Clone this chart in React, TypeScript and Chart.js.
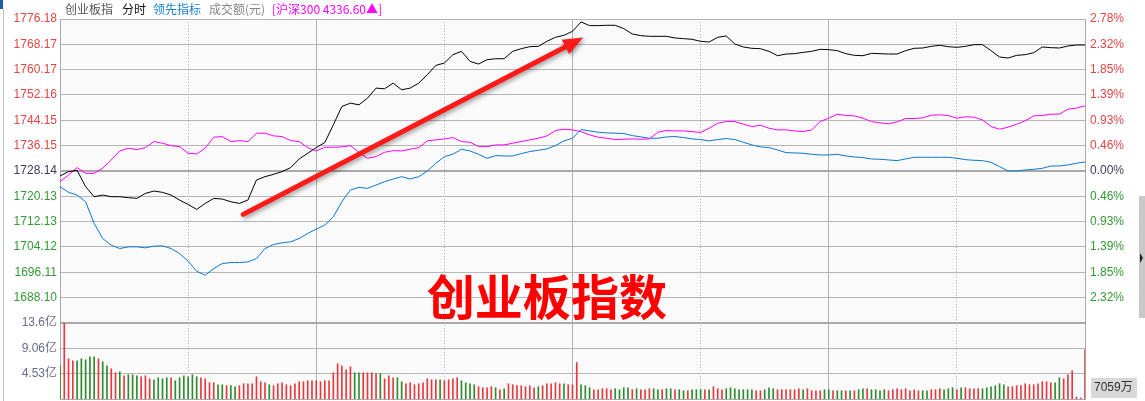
import React, { useEffect, useRef } from 'react';
import { Chart, registerables } from 'chart.js';

Chart.register(...registerables);

// ---- tick labels ----
const priceTicks = [1776.18, 1768.17, 1760.17, 1752.16, 1744.15, 1736.15, 1728.14, 1720.13, 1712.13, 1704.12, 1696.11, 1688.10];
const pctLabels = ['2.78%', '2.32%', '1.85%', '1.39%', '0.93%', '0.46%', '0.00%', '0.46%', '0.93%', '1.39%', '1.85%', '2.32%'];
const volTicks = [13.6, 9.06, 4.53];
const volLabels = ['13.6亿', '9.06亿', '4.53亿'];
const timeTicks = [0, 30, 60, 90, 120, 150, 180, 210, 240];
const basePrice = 1728.14;
const priceMin = 1680.09; // bottom of price panel
const rightMin = 1656.07; // price at bottom of volume panel (right axis spans both)
const volMax = 13.6;
const lineStep = 2; // minutes between line samples

// ---- series (sampled every 2 minutes, 09:30 -> 15:00) ----
const cybIndex = [
  1726.56, 1727.93, 1728.35, 1723.18, 1720.01, 1720.53, 1720.01, 1720.01, 1719.69, 1719.48,
  1721.06, 1721.80, 1721.38, 1720.53, 1718.95, 1717.58, 1715.99, 1717.89, 1719.48, 1719.27,
  1718.42, 1717.89, 1718.95, 1725.29, 1726.34, 1727.08, 1727.93, 1729.20, 1731.94, 1733.74,
  1735.53, 1737.12, 1742.72, 1748.53, 1749.58, 1749.05, 1751.17, 1754.34, 1754.12, 1755.92,
  1753.81, 1754.34, 1755.92, 1758.56, 1761.52, 1762.26, 1764.90, 1765.96, 1762.79, 1761.94,
  1763.31, 1763.63, 1763.63, 1765.96, 1766.80, 1767.43, 1767.54, 1769.12, 1770.39, 1771.03,
  1772.29, 1775.25, 1774.09, 1774.09, 1774.19, 1774.19, 1773.14, 1771.45, 1770.92, 1770.71,
  1770.71, 1770.71, 1770.18, 1769.97, 1769.76, 1769.12, 1768.91, 1770.39, 1770.82, 1768.28,
  1767.33, 1766.91, 1766.80, 1765.96, 1764.58, 1765.11, 1765.22, 1765.64, 1765.96, 1766.59,
  1766.49, 1766.17, 1765.22, 1764.69, 1764.58, 1765.32, 1765.22, 1765.11, 1765.11, 1766.17,
  1766.91, 1767.01, 1767.54, 1767.86, 1767.43, 1767.22, 1767.54, 1768.07, 1768.07, 1766.17,
  1764.16, 1763.84, 1764.69, 1764.90, 1765.53, 1767.33, 1767.12, 1767.01, 1767.65, 1767.96,
  1767.96,
];

const hs300Line = [
  1724.76, 1726.87, 1729.20, 1727.40, 1727.40, 1728.99, 1731.63, 1734.48, 1735.32, 1734.90,
  1735.53, 1737.44, 1736.91, 1736.17, 1735.85, 1733.74, 1733.53, 1735.32, 1738.81, 1739.02,
  1737.44, 1737.75, 1737.44, 1740.08, 1740.08, 1739.23, 1739.02, 1737.75, 1737.44, 1735.53,
  1734.48, 1735.64, 1735.64, 1735.75, 1736.17, 1734.06, 1732.15, 1732.68, 1734.06, 1734.58,
  1734.48, 1735.01, 1735.53, 1737.65, 1737.96, 1738.28, 1738.70, 1737.44, 1737.22, 1735.85,
  1735.85, 1736.38, 1736.38, 1736.91, 1737.44, 1737.96, 1738.49, 1739.23, 1740.92, 1741.34,
  1741.13, 1740.60, 1739.55, 1738.81, 1738.49, 1738.07, 1738.18, 1738.28, 1738.18, 1738.28,
  1740.39, 1740.92, 1740.81, 1740.81, 1740.60, 1740.29, 1741.66, 1743.25, 1743.77, 1743.77,
  1742.93, 1742.19, 1742.61, 1741.66, 1741.13, 1741.13, 1740.81, 1740.60, 1741.13, 1743.77,
  1744.83, 1746.10, 1745.67, 1745.57, 1744.83, 1743.77, 1743.35, 1743.03, 1743.67, 1744.72,
  1744.72, 1744.93, 1745.78, 1745.89, 1745.67, 1744.83, 1745.25, 1745.15, 1744.30, 1742.19,
  1741.34, 1741.98, 1742.93, 1743.98, 1745.57, 1745.67, 1746.10, 1746.10, 1747.68, 1748.00,
  1748.74,
];

const leadIndex = [
  1723.18, 1721.38, 1720.53, 1718.42, 1711.56, 1706.80, 1704.69, 1703.63, 1704.16, 1704.16,
  1703.85, 1704.37, 1704.48, 1703.63, 1702.05, 1699.62, 1696.45, 1695.18, 1697.30, 1698.88,
  1699.20, 1699.20, 1699.41, 1700.46, 1703.63, 1704.90, 1705.43, 1705.75, 1706.80, 1708.39,
  1709.76, 1711.03, 1713.67, 1718.42, 1722.12, 1722.96, 1722.65, 1723.70, 1724.76, 1725.60,
  1726.34, 1725.60, 1726.34, 1728.14, 1730.57, 1732.68, 1733.42, 1735.01, 1734.48, 1733.42,
  1732.15, 1733.00, 1732.89, 1732.89, 1733.63, 1734.27, 1734.69, 1735.11, 1736.17, 1737.65,
  1738.49, 1741.24, 1740.82, 1740.39, 1740.18, 1740.08, 1739.97, 1739.34, 1738.91, 1738.49,
  1738.49, 1738.91, 1739.02, 1738.70, 1738.28, 1738.07, 1737.65, 1738.07, 1738.39, 1738.07,
  1737.22, 1736.38, 1735.75, 1735.53, 1734.79, 1733.95, 1733.84, 1733.74, 1733.42, 1733.21,
  1733.21, 1733.42, 1732.89, 1732.58, 1732.37, 1731.94, 1731.84, 1731.63, 1731.41, 1731.94,
  1732.47, 1732.47, 1732.47, 1732.47, 1732.47, 1732.15, 1731.73, 1731.52, 1731.41, 1730.89,
  1729.51, 1728.14, 1728.14, 1728.46, 1728.67, 1728.99, 1729.72, 1729.72, 1730.04, 1730.57,
  1730.99,
];

// turnover per minute, in 亿元 (241 minutes)
const volume = [
  5.94, 13.54, 7.19, 6.83, 6.83, 7.19, 7.01, 7.54, 7.54, 7.19,
  6.65, 5.94, 5.40, 4.69, 4.87, 4.16, 4.34, 4.34, 4.16, 3.98,
  4.16, 3.62, 3.44, 3.80, 3.62, 3.80, 3.80, 3.27, 3.80, 4.16,
  3.98, 4.34, 3.98, 3.80, 3.62, 2.91, 2.91, 2.55, 2.55, 2.38,
  2.38, 2.20, 2.38, 2.73, 2.73, 2.73, 3.98, 3.09, 2.91, 2.55,
  2.38, 2.73, 2.91, 2.55, 2.38, 2.73, 3.09, 3.09, 3.27, 3.27,
  3.27, 3.09, 3.27, 3.27, 4.69, 6.30, 5.94, 5.23, 5.76, 4.69,
  4.69, 4.69, 4.69, 4.69, 4.51, 4.51, 3.62, 4.16, 3.80, 3.80,
  3.09, 2.73, 2.91, 2.55, 2.73, 2.91, 3.62, 3.44, 3.44, 3.44,
  3.27, 3.44, 3.62, 3.80, 3.27, 2.91, 2.73, 2.55, 2.20, 2.02,
  2.02, 2.20, 2.02, 1.66, 1.84, 2.73, 2.55, 2.38, 2.38, 2.20,
  2.38, 2.02, 2.20, 2.38, 2.73, 2.73, 2.91, 2.73, 2.73, 2.55,
  2.55, 6.53, 2.55, 2.38, 2.02, 1.66, 1.66, 1.84, 1.84, 1.66,
  1.84, 1.66, 2.02, 2.02, 1.66, 1.84, 1.66, 1.66, 1.84, 1.84,
  1.66, 1.66, 1.84, 1.84, 1.66, 1.66, 1.48, 1.48, 1.66, 1.66,
  1.66, 1.66, 1.66, 2.20, 1.84, 1.66, 1.84, 2.02, 1.84, 1.66,
  1.66, 1.66, 1.66, 1.48, 1.48, 1.66, 2.02, 1.84, 1.66, 1.66,
  1.66, 1.66, 1.66, 1.84, 1.66, 1.84, 1.48, 1.48, 1.48, 1.66,
  1.66, 1.48, 1.48, 1.48, 1.48, 1.48, 1.48, 1.66, 1.84, 1.84,
  1.66, 1.66, 1.48, 1.66, 1.48, 1.66, 1.84, 1.66, 1.84, 1.48,
  1.66, 1.48, 1.48, 1.48, 1.66, 1.66, 1.84, 1.66, 1.84, 2.02,
  1.66, 2.02, 2.02, 1.84, 1.84, 1.84, 1.84, 2.02, 2.20, 2.38,
  2.73, 2.55, 2.20, 2.20, 2.38, 2.38, 2.73, 2.55, 2.55, 2.73,
  3.09, 3.09, 2.91, 2.91, 3.80, 3.62, 4.34, 5.05, 0.36, 0.18,
  8.79,
];

// 1 = up minute (red), 0 = down minute (green)
const volUp = [
  0, 1, 1, 1, 0, 0, 0, 0, 0, 1,
  0, 0, 1, 1, 0, 1, 0, 0, 0, 1,
  1, 1, 0, 0, 0, 0, 1, 0, 0, 0,
  0, 0, 0, 1, 1, 1, 1, 0, 0, 1,
  0, 0, 1, 1, 1, 1, 1, 1, 1, 0,
  1, 1, 1, 1, 1, 1, 1, 1, 1, 1,
  1, 1, 1, 1, 1, 1, 1, 1, 1, 0,
  0, 1, 1, 1, 1, 0, 1, 1, 1, 0,
  0, 1, 1, 1, 1, 1, 1, 1, 1, 0,
  1, 1, 1, 1, 0, 0, 0, 0, 1, 1,
  1, 1, 0, 1, 0, 1, 1, 1, 1, 1,
  1, 1, 0, 1, 1, 1, 1, 1, 0, 1,
  1, 1, 0, 0, 0, 1, 1, 1, 1, 1,
  0, 0, 0, 0, 1, 0, 1, 1, 1, 0,
  0, 1, 0, 0, 1, 0, 0, 1, 0, 0,
  0, 1, 0, 1, 1, 1, 0, 0, 0, 0,
  0, 0, 0, 1, 1, 0, 0, 0, 1, 1,
  1, 1, 1, 1, 0, 1, 1, 1, 1, 0,
  0, 1, 0, 0, 1, 0, 1, 0, 0, 1,
  0, 0, 0, 0, 1, 1, 1, 1, 1, 1,
  1, 1, 0, 0, 1, 1, 1, 0, 0, 0,
  1, 0, 1, 1, 1, 1, 0, 0, 0, 0,
  0, 0, 1, 1, 1, 1, 1, 1, 1, 1,
  1, 1, 1, 0, 0, 1, 1, 1, 1, 1,
  1,
];

// annotation anchors (minute, price)
const arrowFrom = [42.9, 1714.42];
const arrowTo = [122.5, 1770.3];
const bigTitle = '创业板指数';
const bigTitleAt = [114, 1688.4];
const headerItems = [
  ['创业板指', '#555555', 65],
  ['分时', '#111111', 122],
  ['领先指标', '#1a7fd0', 153],
  ['成交额(元)', '#888888', 209],
  ['[沪深300 4336.60▲]', '#ff00ff', 272],
];
const lastVolLabel = '7059万';

const RED = '#e8383d';
const GREEN = '#2e8b2e';
const LBL_RED = '#e64545';
const LBL_GREEN = '#339933';
const LBL_MID = '#3c3c5a';
const FONT = '"Liberation Sans", Arial, "Noto Sans CJK SC", sans-serif';

const near = (a: number, b: number) => Math.abs(a - b) < 0.005;

const noPad = (s: any) => {
  s.paddingTop = 0;
  s.paddingBottom = 0;
};

const decor = {
  id: 'decor',
  beforeDraw(chart: any) {
    const { ctx, chartArea: a, width, height } = chart;
    ctx.save();
    ctx.fillStyle = '#ffffff';
    ctx.fillRect(0, 0, width, height);
    ctx.fillStyle = '#fafafa';
    ctx.fillRect(a.left, a.top, a.right - a.left, a.bottom - a.top);
    ctx.restore();
  },
  afterDraw(chart: any) {
    const { ctx, chartArea: a, scales } = chart;
    const xs = scales.x;
    const ys = scales.y;
    ctx.save();

    // header
    ctx.font = '12px "Noto Sans CJK SC", sans-serif';
    ctx.textBaseline = 'middle';
    ctx.textAlign = 'left';
    for (const [t, c, x] of headerItems as any) {
      ctx.fillStyle = c;
      ctx.fillText(t, x, 9);
    }

    // left splitter
    ctx.fillStyle = '#1f5fa8';
    ctx.fillRect(0, 0, 3, 9);
    ctx.strokeStyle = '#c4c4c4';
    ctx.lineWidth = 1;
    ctx.beginPath();
    ctx.moveTo(3.5, 9);
    ctx.lineTo(3.5, 401);
    ctx.stroke();

    // big title
    ctx.font = 'bold 48px "Noto Sans CJK SC", sans-serif';
    ctx.textAlign = 'center';
    ctx.textBaseline = 'middle';
    ctx.fillStyle = '#ff0000';
    ctx.fillText(bigTitle, xs.getPixelForValue(bigTitleAt[0]), ys.getPixelForValue(bigTitleAt[1]));

    // arrow
    const x0 = xs.getPixelForValue(arrowFrom[0]);
    const y0 = ys.getPixelForValue(arrowFrom[1]);
    const x1 = xs.getPixelForValue(arrowTo[0]);
    const y1 = ys.getPixelForValue(arrowTo[1]);
    const ang = Math.atan2(y1 - y0, x1 - x0);
    const headLen = 20;
    const headW = 8;
    const bx = x1 - headLen * Math.cos(ang);
    const by = y1 - headLen * Math.sin(ang);
    ctx.shadowColor = 'rgba(0,0,0,0.35)';
    ctx.shadowBlur = 4;
    ctx.shadowOffsetX = 2;
    ctx.shadowOffsetY = 2;
    ctx.strokeStyle = '#ff1a1a';
    ctx.fillStyle = '#ff1a1a';
    ctx.lineWidth = 5;
    ctx.lineCap = 'round';
    ctx.beginPath();
    ctx.moveTo(x0, y0);
    ctx.lineTo(bx + 3 * Math.cos(ang), by + 3 * Math.sin(ang));
    ctx.stroke();
    ctx.beginPath();
    ctx.moveTo(x1, y1);
    ctx.lineTo(bx + headW * Math.sin(ang), by - headW * Math.cos(ang));
    ctx.lineTo(bx - headW * Math.sin(ang), by + headW * Math.cos(ang));
    ctx.closePath();
    ctx.fill();
    ctx.shadowColor = 'transparent';
    ctx.shadowBlur = 0;
    ctx.shadowOffsetX = 0;
    ctx.shadowOffsetY = 0;

    // last volume box
    ctx.fillStyle = '#d8d8d8';
    ctx.fillRect(a.right + 6, a.bottom - 21, 46, 20);
    ctx.fillStyle = '#333333';
    ctx.font = '12px ' + FONT;
    ctx.textAlign = 'left';
    ctx.textBaseline = 'middle';
    ctx.fillText(lastVolLabel, a.right + 9, a.bottom - 11);

    // right scrollbar
    ctx.fillStyle = '#c8c8c8';
    ctx.fillRect(1139, 196, 6, 122);
    ctx.fillStyle = '#222222';
    ctx.beginPath();
    ctx.moveTo(1140, 253);
    ctx.lineTo(1143, 258);
    ctx.lineTo(1140, 263);
    ctx.closePath();
    ctx.fill();

    ctx.restore();
  },
};

export default function App() {
  const ref = useRef<HTMLCanvasElement | null>(null);

  useEffect(() => {
    document.body.style.margin = '0';
    const canvas = ref.current;
    if (!canvas) return;

    const toPts = (arr: number[]) => arr.map((v, k) => ({ x: k * lineStep, y: v }));

    const chart = new Chart(canvas, {
      type: 'line',
      data: {
        datasets: [
          { type: 'line', label: '创业板指', data: toPts(cybIndex), borderColor: '#000000', borderWidth: 1, pointRadius: 0, tension: 0, yAxisID: 'y', xAxisID: 'x', order: 0 },
          { type: 'line', label: '沪深300', data: toPts(hs300Line), borderColor: '#ff00ff', borderWidth: 1, pointRadius: 0, tension: 0, yAxisID: 'y', xAxisID: 'x', order: 1 },
          { type: 'line', label: '领先指标', data: toPts(leadIndex), borderColor: '#0a78d7', borderWidth: 1, pointRadius: 0, tension: 0, yAxisID: 'y', xAxisID: 'x', order: 2 },
          {
            type: 'bar', label: '成交额', data: volume.map((v, i) => ({ x: i, y: v })),
            backgroundColor: volUp.map((u) => (u ? RED : GREEN)), barThickness: 1, borderWidth: 0,
            yAxisID: 'yv', xAxisID: 'x', order: 3,
          },
        ] as any,
      },
      options: {
        animation: false,
        responsive: false,
        events: [],
        layout: { padding: { top: 19, bottom: 2, left: 0, right: 0 } },
        plugins: { legend: { display: false }, tooltip: { enabled: false } },
        scales: {
          x: {
            type: 'linear', min: 0, max: 240, offset: false,
            afterBuildTicks: (s: any) => { s.ticks = timeTicks.map((v) => ({ value: v })); },
            afterFit: (s: any) => { s.height = 0; s.paddingLeft = 0; s.paddingRight = 0; },
            ticks: { display: false },
            grid: { offset: false, drawTicks: false, color: '#b2b2b2', lineWidth: 1 },
            border: { display: true, color: '#aaaaaa', width: 1, dash: (c: any) => (c.tick && (c.tick.value / 30) % 2 === 1 ? [1, 2] : []) },
          },
          y: {
            type: 'linear', position: 'left', stack: 'L', stackWeight: 4, weight: 2,
            min: priceMin, max: priceTicks[0],
            afterBuildTicks: (s: any) => { s.ticks = [...priceTicks, priceMin].map((v) => ({ value: v })); },
            afterFit: (s: any) => { s.width = 60; noPad(s); },
            ticks: {
              autoSkip: false, padding: 3, font: { family: FONT, size: 12 },
              callback: (v: any, i: number) => (i < priceTicks.length ? priceTicks[i].toFixed(2) : ''),
              color: (c: any) => {
                const v = c.tick ? c.tick.value : basePrice;
                return near(v, basePrice) ? LBL_MID : v > basePrice ? LBL_RED : LBL_GREEN;
              },
            },
            grid: {
              drawTicks: false,
              color: (c: any) => (c.tick && (near(c.tick.value, basePrice) || near(c.tick.value, priceMin)) ? '#a9a9a9' : '#b6b6b6'),
              lineWidth: (c: any) => (c.tick && (near(c.tick.value, basePrice) || near(c.tick.value, priceMin)) ? 2 : 1),
            },
            border: { display: true, color: '#aaaaaa', width: 1 },
          },
          yv: {
            type: 'linear', position: 'left', stack: 'L', stackWeight: 1, weight: 1,
            min: 0, max: volMax,
            afterBuildTicks: (s: any) => { s.ticks = volTicks.map((v) => ({ value: v })); },
            afterFit: (s: any) => { s.width = 60; noPad(s); },
            ticks: {
              autoSkip: false, padding: 3, font: { family: FONT, size: 12 }, color: '#6a6a8a',
              callback: (v: any, i: number) => volLabels[i] ?? '',
            },
            grid: {
              drawTicks: false,
              color: (c: any) => (c.tick && near(c.tick.value, volMax) ? 'rgba(0,0,0,0)' : '#b6b6b6'),
              lineWidth: 1,
            },
            border: { display: true, color: '#aaaaaa', width: 1 },
          },
          yR: {
            type: 'linear', position: 'right',
            min: rightMin, max: priceTicks[0],
            afterBuildTicks: (s: any) => { s.ticks = priceTicks.map((v) => ({ value: v })); },
            afterFit: (s: any) => { s.width = 60; noPad(s); },
            ticks: {
              autoSkip: false, padding: 5, font: { family: FONT, size: 12 },
              callback: (v: any, i: number) => pctLabels[i] ?? '',
              color: (c: any) => {
                const v = c.tick ? c.tick.value : basePrice;
                return near(v, basePrice) ? LBL_MID : v > basePrice ? LBL_RED : LBL_GREEN;
              },
            },
            grid: { display: false, drawTicks: false },
            border: { display: true, color: '#aaaaaa', width: 1 },
          },
        },
      } as any,
      plugins: [decor],
    });

    return () => chart.destroy();
  }, []);

  return (
    <div style={{ position: 'absolute', left: 0, top: 0, width: 1145, height: 401 }}>
      <canvas ref={ref} width={1145} height={401} style={{ display: 'block', width: 1145, height: 401 }} />
    </div>
  );
}
